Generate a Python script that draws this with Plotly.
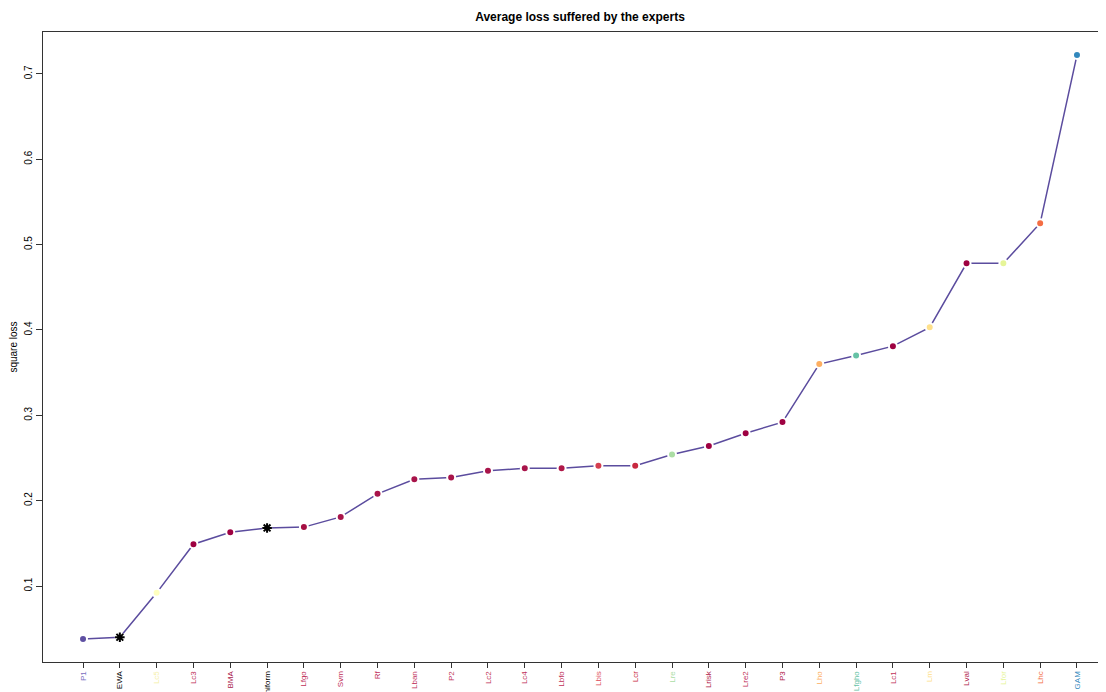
import plotly.graph_objects as go

experts = ["P1", "EWA", "Lc5", "Lc3", "BMA", "Uniform", "Lfgo", "Svm", "Rf", "Lban",
           "P2", "Lc2", "Lc4", "Lbfo", "Lbis", "Lcr", "Lre", "Lrisk", "Lre2", "P3",
           "Lho", "Lfgho", "Lc1", "Lm", "Lval", "Lfor", "Lhc", "GAM"]
loss = [0.038, 0.040, 0.092, 0.149, 0.163, 0.168, 0.169, 0.181, 0.208, 0.225,
        0.227, 0.235, 0.238, 0.238, 0.241, 0.241, 0.254, 0.264, 0.279, 0.292,
        0.360, 0.370, 0.381, 0.403, 0.478, 0.478, 0.525, 0.722]
colors = ["#5E4FA2", "#000000", "#FFFFBF", "#9E0142", "#9E0142", "#000000", "#A50F43", "#A8144A",
          "#A8144A", "#A8144A", "#A8144A", "#A8144A", "#A8144A", "#B01848", "#D53E4F", "#C8283F",
          "#ABDDA4", "#9E0142", "#9E0142", "#9E0142", "#FDAE61", "#66C2A5", "#9E0142", "#FEE08B",
          "#9E0142", "#E6F598", "#F46D43", "#3288BD"]
label_colors = ["#7A6FC0", "#000000", "#F5F0A8", "#C0305A", "#A8144A", "#000000", "#C0305A", "#C0305A",
                "#C0305A", "#C0305A", "#C0305A", "#C0305A", "#C0305A", "#C0305A", "#E05060", "#C8283F",
                "#ABDDA4", "#B0204A", "#C0305A", "#B0204A", "#FDAE61", "#66C2A5", "#C0305A", "#FEE08B",
                "#B0204A", "#E6F598", "#F46D43", "#3288BD"]
star_experts = ["EWA", "Uniform"]
y_ticks = [0.1, 0.2, 0.3, 0.4, 0.5, 0.6, 0.7]

idx = list(range(len(experts)))
marker_fill = ["#FFFFFF" if e in star_experts else c for e, c in zip(experts, colors)]

fig = go.Figure()
fig.add_trace(go.Scatter(
    x=idx, y=loss, mode="lines+markers",
    line=dict(color="#5B4C9E", width=1.5),
    marker=dict(size=8, color=marker_fill, line=dict(color="#FFFFFF", width=2)),
    hoverinfo="skip", showlegend=False,
))
si = [experts.index(e) for e in star_experts]
fig.add_trace(go.Scatter(
    x=si, y=[loss[i] for i in si], mode="markers",
    marker=dict(symbol="asterisk-open", size=8, color="#000000", line=dict(color="#000000", width=2)),
    hoverinfo="skip", showlegend=False,
))

ticktext = [f'<span style="color:{c}">{e}</span>' for e, c in zip(experts, label_colors)]

W, H = 1109, 684
fig.update_layout(
    width=W, height=H,
    margin=dict(l=35, r=0, t=24, b=30, autoexpand=False),
    paper_bgcolor="white", plot_bgcolor="white",
    font=dict(family="Liberation Sans, Arial, sans-serif", color="#000000"),
    title=dict(text="<b>Average loss suffered by the experts</b>", x=572 / W, xanchor="center",
               y=1 - 9 / H, yanchor="middle", font=dict(size=12)),
    xaxis=dict(range=[-1.087, 28.087], tickmode="array", tickvals=idx, ticktext=ticktext,
               tickangle=-90, tickfont=dict(size=8), ticks="outside", ticklen=5,
               tickcolor="#333333", showgrid=False, zeroline=False, automargin=False,
               showline=True, linecolor="#333333", linewidth=1, mirror=True),
    yaxis=dict(range=[0.011, 0.749], tickmode="array", tickvals=y_ticks,
               tickangle=-90, tickfont=dict(size=10), ticks="outside", ticklen=6,
               tickcolor="#333333", showgrid=False, zeroline=False, automargin=False,
               showline=True, linecolor="#333333", linewidth=1, mirror=True,
               title=dict(text="square loss", font=dict(size=10), standoff=8)),
)

fig.write_html("out.html")
